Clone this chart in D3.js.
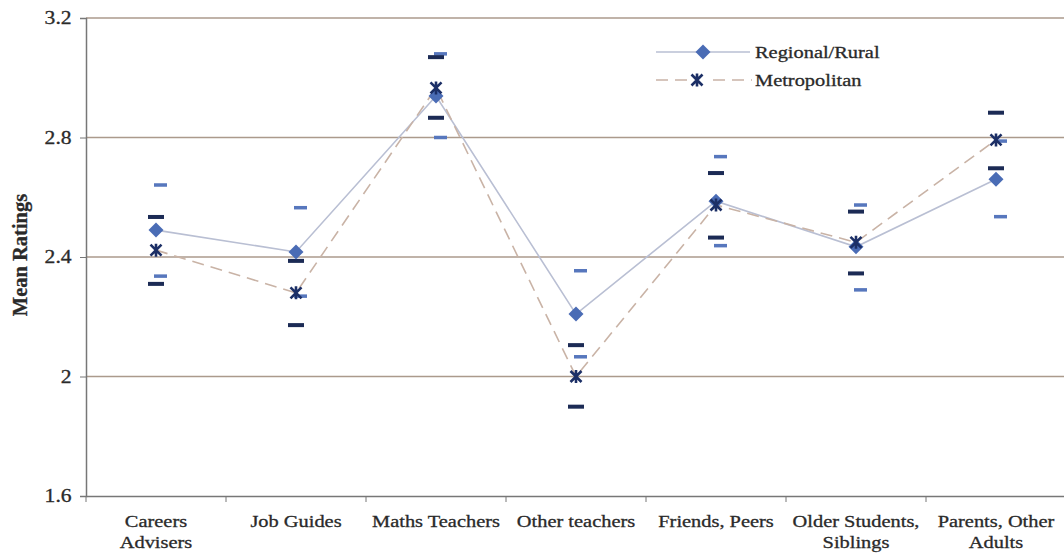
<!DOCTYPE html>
<html><head><meta charset="utf-8">
<script src="https://cdn.jsdelivr.net/npm/d3@7"></script>
<style>body{margin:0;background:#fff}svg{display:block}svg text{font-family:"Liberation Serif","Times New Roman",serif}</style>
</head><body><svg id="c" width="1064" height="555"></svg>
<script>
const categories = ["Careers|Advisers","Job Guides","Maths Teachers","Other teachers","Friends, Peers","Older Students,|Siblings","Parents, Other|Adults"];
const regional = [2.49, 2.417, 2.939, 2.209, 2.587, 2.434, 2.66];
const regionalLow = [2.336, 2.269, 2.80, 2.066, 2.438, 2.29, 2.535];
const regionalHigh = [2.641, 2.565, 3.08, 2.354, 2.736, 2.574, 2.788];
const metro = [2.423, 2.28, 2.966, 2.0, 2.574, 2.449, 2.792];
const metroLow = [2.31, 2.172, 2.866, 1.899, 2.465, 2.345, 2.697];
const metroHigh = [2.534, 2.387, 3.069, 2.105, 2.681, 2.552, 2.883];
const yTicks = [1.6, 2, 2.4, 2.8, 3.2];
const seriesNames = ["Regional/Rural", "Metropolitan"];

const svg = d3.select("#c");
const L = 86, R = 1066, T = 18, B = 496;
const x = d3.scaleBand().domain(categories).range([L, R]);
const y = d3.scaleLinear().domain([1.6, 3.2]).range([B, T]);
const font = '"Liberation Serif","Times New Roman",serif';
const SX = 1.2, TXT = "#2a2a2a";
function styleText(sel, size) {
  sel.style("font-family", font).style("font-size", size + "px")
    .attr("fill", TXT).attr("stroke", TXT).attr("stroke-width", 0.3);
}

// gridlines
svg.append("g").selectAll("line").data(yTicks.filter(d => d > 1.6)).join("line")
  .attr("x1", L).attr("x2", 1064).attr("y1", d => y(d)).attr("y2", d => y(d))
  .attr("stroke", "#ab9a8c").attr("stroke-width", 1.3);

// y axis
const ya = svg.append("g").attr("transform", `translate(${L},0)`)
  .call(d3.axisLeft(y).tickValues(yTicks).tickSize(6).tickFormat(d => d3.format("")(d)));
ya.attr("font-family", null).attr("font-size", null);
ya.select(".domain").attr("stroke", "#777").attr("stroke-width", 1.5);
ya.selectAll(".tick line").attr("stroke", "#777");
ya.selectAll("text").call(styleText, 18).attr("x", -12).attr("transform", `scale(${SX},1)`);

// x axis
const xa = svg.append("g").attr("transform", `translate(0,${B})`)
  .call(d3.axisBottom(x).tickSize(0).tickFormat(""));
xa.select(".domain").attr("stroke", "#777").attr("stroke-width", 1.5);
xa.selectAll(".bt").data(categories).join("line").attr("class", "bt")
  .attr("x1", d => x(d)).attr("x2", d => x(d)).attr("y1", 0).attr("y2", 6)
  .attr("stroke", "#777");
const labels = svg.append("g");
categories.forEach(c => {
  const g = labels.append("g").attr("transform", `translate(${x(c) + x.bandwidth() / 2},0) scale(${SX},1)`);
  const t = g.append("text").attr("text-anchor", "middle").call(styleText, 17);
  c.split("|").forEach((s, i) => {
    t.append("tspan").attr("x", 0).attr("y", 527 + i * 21).text(s);
  });
});

// y title
svg.append("text").attr("transform", "translate(27,255) rotate(-90)")
  .attr("text-anchor", "middle").call(styleText, 20.5)
  .attr("font-weight", "bold").text("Mean Ratings");

const cx = c => x(c) + x.bandwidth() / 2;

// error dashes
const dashes = svg.append("g");
categories.forEach((c, i) => {
  [regionalLow[i], regionalHigh[i]].forEach(v => {
    dashes.append("rect").attr("x", cx(c) - 2).attr("y", y(v) - 1.75).attr("width", 13).attr("height", 3.5)
      .attr("fill", "#5777bd");
  });
  [metroLow[i], metroHigh[i]].forEach(v => {
    dashes.append("rect").attr("x", cx(c) - 8).attr("y", y(v) - 2).attr("width", 16).attr("height", 4)
      .attr("fill", "#1c2b55");
  });
});

// lines
const line = d3.line().x((d, i) => cx(categories[i])).y(d => y(d));
svg.append("path").datum(regional).attr("d", line).attr("fill", "none")
  .attr("stroke", "#b9bfd3").attr("stroke-width", 1.6);
svg.append("path").datum(metro).attr("d", line).attr("fill", "none")
  .attr("stroke", "#c9b3a6").attr("stroke-width", 1.6).attr("stroke-dasharray", "12,7");

// markers
function drawDiamond(g, px, py) {
  g.append("path").attr("d", "M0,-7.5L7.5,0L0,7.5L-7.5,0Z").attr("transform", `translate(${px},${py})`)
    .attr("fill", "#4a6cb5");
}
function drawStar(g, px, py) {
  const s = 5.5;
  g.append("path").attr("transform", `translate(${px},${py})`)
    .attr("d", `M${-s},${-s}L${s},${s}M${-s},${s}L${s},${-s}M0,${-s-1}L0,${s+1}`)
    .attr("stroke", "#1c2f66").attr("stroke-width", 2.6).attr("fill", "none");
}
const mk = svg.append("g");
regional.forEach((v, i) => drawDiamond(mk, cx(categories[i]), y(v)));
metro.forEach((v, i) => drawStar(mk, cx(categories[i]), y(v)));

// legend
const lg = svg.append("g");
lg.append("line").attr("x1", 656).attr("x2", 750).attr("y1", 52).attr("y2", 52)
  .attr("stroke", "#b9bfd3").attr("stroke-width", 1.6);
drawDiamond(lg, 703, 52);
lg.append("line").attr("x1", 656).attr("x2", 752).attr("y1", 80).attr("y2", 80)
  .attr("stroke", "#c9b3a6").attr("stroke-width", 1.6).attr("stroke-dasharray", "12,7");
lg.append("rect").attr("x", 688).attr("y", 72).attr("width", 18).attr("height", 16).attr("fill", "#fff");
drawStar(lg, 697, 80);
seriesNames.forEach((d, i) => {
  lg.append("g").attr("transform", `translate(755,${58 + i * 28}) scale(${SX},1)`)
    .append("text").attr("x", 0).attr("y", 0).call(styleText, 17).text(d);
});
</script></body></html>
